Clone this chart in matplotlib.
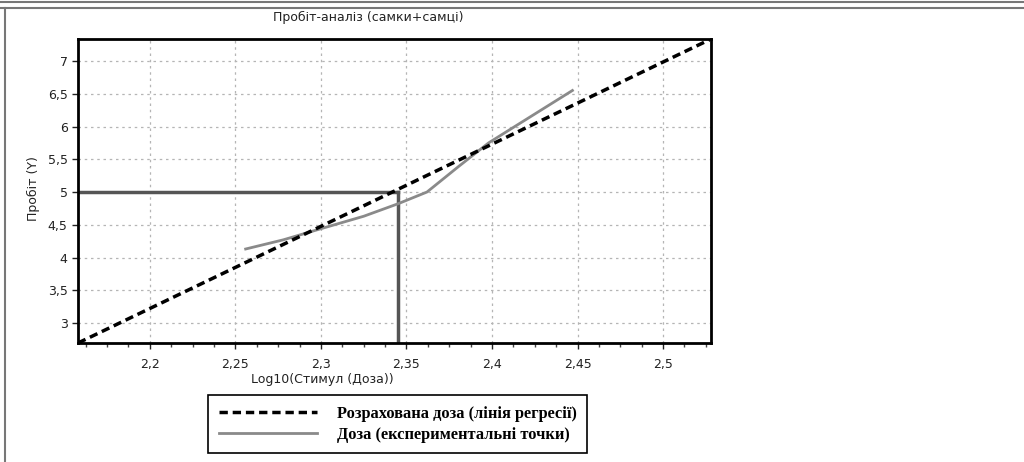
import matplotlib.pyplot as plt
import numpy as np
from matplotlib.lines import Line2D
from matplotlib.ticker import FuncFormatter, MultipleLocator

# Дані
reg_x = [2.158, 2.528]          # лінія регресії (кінці)
reg_y = [2.695, 7.336]
exp_x = [2.256, 2.278, 2.300, 2.325, 2.345, 2.362, 2.380, 2.398, 2.447]   # експериментальні точки
exp_y = [4.13, 4.27, 4.44, 4.63, 4.82, 5.00, 5.38, 5.75, 6.55]
ld50_x = 2.345
ld50_y = 5.0

x_ticks = [2.2, 2.25, 2.3, 2.35, 2.4, 2.45, 2.5]
y_ticks = [3, 3.5, 4, 4.5, 5, 5.5, 6, 6.5, 7]
xlim = (2.158, 2.528)
ylim = (2.695, 7.336)

W, H = 1024, 462
fig = plt.figure(figsize=(W / 100, H / 100), dpi=100)
ax = fig.add_axes([78 / W, 1 - 343 / H, 633 / W, 304 / H])

# Лінії
ax.plot(reg_x, reg_y, color='black', lw=2.5, linestyle=(0, (2.4, 1.4)),
        label='Розрахована доза (лінія регресії)', zorder=4)
ax.plot(exp_x, exp_y, color='#8a8a8a', lw=2,
        label='Доза (експериментальні точки)', zorder=3)

# LD50
ax.plot([xlim[0], ld50_x], [ld50_y, ld50_y], color='#555555', lw=2.5, zorder=2)
ax.plot([ld50_x, ld50_x], [ylim[0], ld50_y], color='#555555', lw=2.5, zorder=2)

ax.set_xlim(*xlim)
ax.set_ylim(*ylim)
ax.set_xticks(x_ticks)
ax.set_yticks(y_ticks)
ax.xaxis.set_minor_locator(MultipleLocator(0.0125))
fmt = FuncFormatter(lambda v, p: f'{v:g}'.replace('.', ','))
ax.xaxis.set_major_formatter(fmt)
ax.yaxis.set_major_formatter(fmt)
ax.tick_params(axis='both', which='major', length=4, width=1, labelsize=9,
               colors='#222222')
ax.tick_params(axis='x', which='major', pad=7)
ax.tick_params(axis='x', which='minor', length=3, width=1, color='#444444')

ax.grid(True, which='major', color='#b5b5b5', linestyle=(0, (2, 3)), lw=0.9)
for s in ax.spines.values():
    s.set_linewidth(2)
    s.set_color('black')

# Підписи
fig.text(368 / W, 1 - 17 / H, 'Пробіт-аналіз (самки+самці)', ha='center', va='center',
         fontsize=9, color='#222222')
fig.text(322 / W, 1 - 379 / H, 'Log10(Стимул (Доза))', ha='center', va='center',
         fontsize=9, color='#222222')
fig.text(33 / W, 1 - 189 / H, 'Пробіт (Y)', ha='center', va='center', rotation=90,
         fontsize=9, color='#222222')

# Легенда
leg = fig.legend(loc='upper left', bbox_to_anchor=(200 / W, 1 - 387 / H),
                 bbox_transform=fig.transFigure, frameon=True, fancybox=False,
                 framealpha=1, edgecolor='black', handlelength=6.0, handletextpad=1.2,
                 borderpad=0.65, labelspacing=0.3,
                 prop={'family': 'Liberation Serif', 'weight': 'bold', 'size': 11.8})
leg.get_frame().set_linewidth(1.2)

# Рамка
fig.add_artist(Line2D([0, 1], [1 - 1.5 / H] * 2, color='#777777', lw=1.5))
fig.add_artist(Line2D([0, 1], [1 - 7.5 / H] * 2, color='#777777', lw=1.5))
fig.add_artist(Line2D([5 / W] * 2, [0, 1 - 7.5 / H], color='#777777', lw=1.5))

plt.savefig('out.png', dpi=100)
